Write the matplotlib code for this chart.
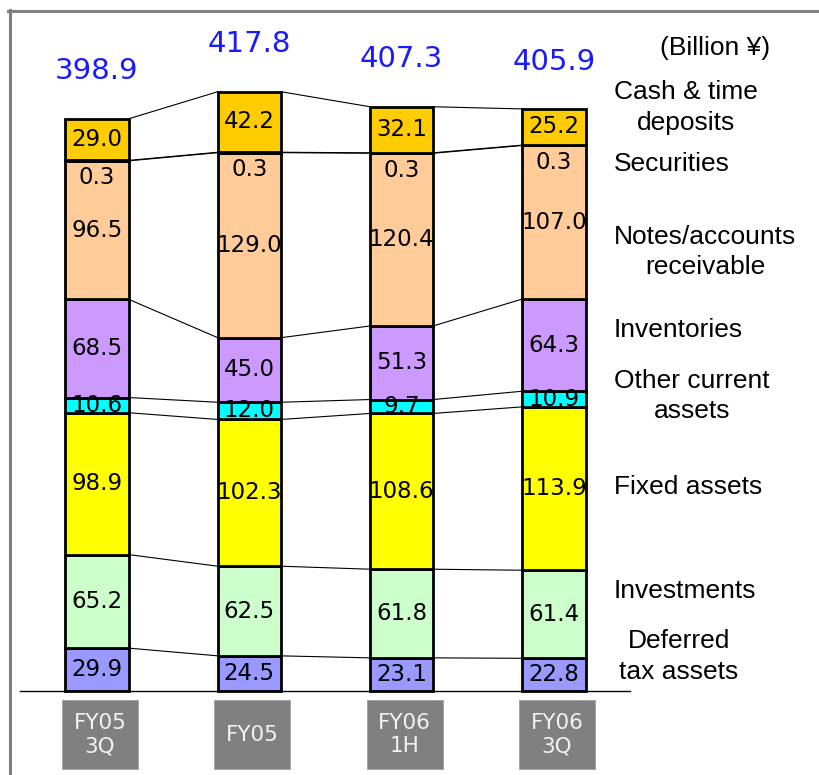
"""Balance sheet assets (FY05 3Q - FY06 3Q) as stacked bars with connector lines."""

import matplotlib

matplotlib.use("Agg")
import matplotlib.pyplot as plt
from matplotlib.lines import Line2D
from matplotlib.patches import Rectangle
import numpy as np


PERIODS = ["FY05\n3Q", "FY05", "FY06\n1H", "FY06\n3Q"]
TOTALS = ["398.9", "417.8", "407.3", "405.9"]

# bottom to top
DEFERRED_TAX = [29.9, 24.5, 23.1, 22.8]
INVESTMENTS = [65.2, 62.5, 61.8, 61.4]
FIXED_ASSETS = [98.9, 102.3, 108.6, 113.9]
OTHER_CURRENT = [10.6, 12.0, 9.7, 10.9]
INVENTORIES = [68.5, 45.0, 51.3, 64.3]
RECEIVABLES = [96.5, 129.0, 120.4, 107.0]
SECURITIES = [0.3, 0.3, 0.3, 0.3]
CASH = [29.0, 42.2, 32.1, 25.2]

SERIES = [
    ("Deferred\ntax assets", DEFERRED_TAX, "#9999FF"),
    ("Investments", INVESTMENTS, "#CCFFCC"),
    ("Fixed assets", FIXED_ASSETS, "#FFFF00"),
    ("Other current\nassets", OTHER_CURRENT, "#00FFFF"),
    ("Inventories", INVENTORIES, "#CC99FF"),
    ("Notes/accounts\nreceivable", RECEIVABLES, "#FFCC99"),
    ("Securities", SECURITIES, "#FFCC99"),
    ("Cash & time\ndeposits", CASH, "#FFCC00"),
]

# right-hand label heights (data units)
LABEL_Y = [24.1, 69.7, 142.3, 205.7, 251.7, 306.1, 367.5, 406.8]

W_PX, H_PX, DPI = 819, 775, 100
X0_PX, X_STEP_PX = 97.0, 152.33   # bar centre of first bar, spacing
BASE_PX, Y_SCALE = 691.0, 1.4344  # baseline from top, px per unit
BAR_W = 0.414

fig = plt.figure(figsize=(W_PX / DPI, H_PX / DPI), dpi=DPI)
ax = fig.add_axes([0, 0, 1, 1])
ax.set_xlim(-X0_PX / X_STEP_PX, (W_PX - X0_PX) / X_STEP_PX)
ax.set_ylim(-(H_PX - BASE_PX) / Y_SCALE, BASE_PX / Y_SCALE)
ax.set_axis_off()

x = np.arange(len(PERIODS))
bottom = np.zeros(len(PERIODS))
levels = []
num_font = "DejaVu Sans"

for idx, (name, vals, color) in enumerate(SERIES):
    vals = np.array(vals)
    ax.bar(x, vals, bottom=bottom, width=BAR_W, color=color,
           edgecolor="black", linewidth=2.0, zorder=3)
    for i in range(len(x)):
        if name == "Securities":
            ty = bottom[i] + vals[i] - 12
            lo, hi = bottom[i] - 200, bottom[i] + vals[i]
        else:
            ty = bottom[i] + vals[i] / 2
            lo, hi = bottom[i], bottom[i] + vals[i]
        clip = Rectangle((x[i] - 0.4, lo), 0.8, hi - lo, transform=ax.transData)
        t = ax.text(x[i], ty, f"{vals[i]:.1f}", ha="center", va="center",
                    fontsize=16.5, family=num_font, color="black", zorder=5)
        t.set_clip_path(clip)
    bottom = bottom + vals
    levels.append(bottom.copy())

# connector lines between neighbouring bars
for lvl in levels:
    for i in range(len(x) - 1):
        ax.plot([x[i] + BAR_W / 2, x[i + 1] - BAR_W / 2], [lvl[i], lvl[i + 1]],
                color="black", linewidth=0.8, zorder=2)

# totals
for i, total in enumerate(TOTALS):
    ax.text(x[i], levels[-1][i] + 33, total, ha="center", va="center",
            fontsize=21, family=num_font, color="#1A1AFF")

# baseline
ax.plot([-0.505, 3.50], [0, 0], color="black", linewidth=1.0, zorder=4)

# period boxes
box_w, box_top, box_h = 0.5, -6.3, 48.1
for i, label in enumerate(PERIODS):
    cx = x[i] + 0.02
    ax.add_patch(Rectangle((cx - box_w / 2, box_top - box_h), box_w, box_h,
                           facecolor="#808080", edgecolor="#A0A0A0", linewidth=0.6))
    ax.text(cx, box_top - box_h / 2, label, ha="center", va="center",
            fontsize=15.5, family=num_font, color="#F2F2F2", linespacing=1.2)

# category labels on the right
label_x = (614 - X0_PX) / X_STEP_PX
for (name, _, _), ly in zip(SERIES, LABEL_Y):
    lx = label_x + (5 / X_STEP_PX if name.startswith("Deferred") else 0)
    ax.text(lx, ly, name, ha="left", va="center", multialignment="center",
            fontsize=19, family="Liberation Sans", color="black", linespacing=1.35)

ax.text((660 - X0_PX) / X_STEP_PX, (BASE_PX - 48) / Y_SCALE, "(Billion ¥)",
        ha="left", va="center", fontsize=19, family="Liberation Sans", color="black")

# grey frame on top and left
fig.add_artist(Line2D([8 / W_PX, 1], [1 - 10.5 / H_PX] * 2, color="#808080",
                      linewidth=2.2, transform=fig.transFigure))
fig.add_artist(Line2D([9.5 / W_PX] * 2, [0, 1 - 9.5 / H_PX], color="#808080",
                      linewidth=2.2, transform=fig.transFigure))

fig.savefig("out.png", dpi=DPI)
plt.close(fig)
